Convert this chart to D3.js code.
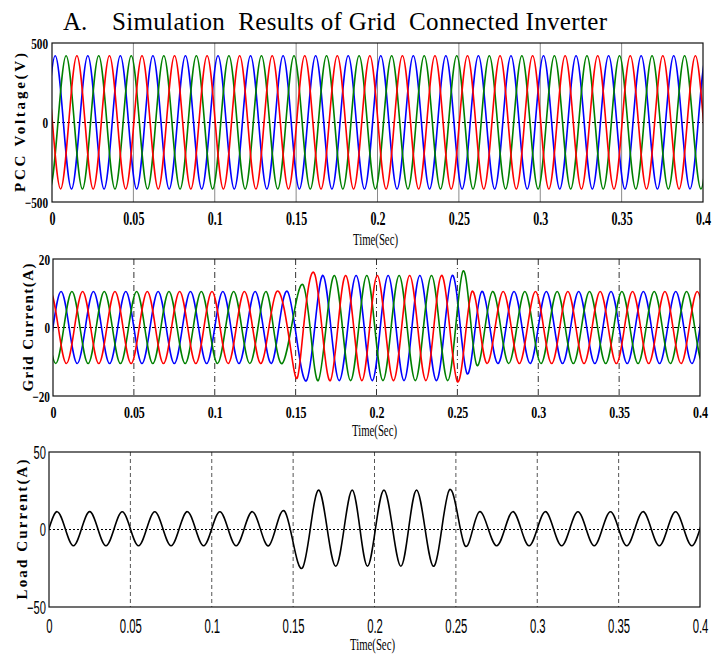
<!DOCTYPE html>
<html>
<head>
<meta charset="utf-8">
<script src="https://cdn.jsdelivr.net/npm/d3@7"></script>
<style>
  body { margin: 0; background: #fff; }
  svg { display: block; }
</style>
</head>
<body>
<div id="chart"></div>
<script>
// shared time axis (s)
var timeTicks = [0, 0.05, 0.1, 0.15, 0.2, 0.25, 0.3, 0.35, 0.4];
var timeTickLabels = ["0", "0.05", "0.1", "0.15", "0.2", "0.25", "0.3", "0.35", "0.4"];

var voltTicks = [-500, 0, 500];
var gridTicks = [-20, 0, 20];
var loadTicks = [-50, 0, 50];

// PCC voltage: one peak every half cycle, first peak time in s
var halfCycle = 0.01;
var voltAStart = -0.038;
var voltBStart = -0.0313;
var voltCStart = -0.0347;
var voltA = [420,-418,420,-418,420,-418,420,-418,420,-418,420,-418,420,-418,420,-418,420,-418,420,-418,420,-418,420,-418,
             420,-418,420,-418,420,-418,420,-418,420,-418,420,-418,420,-418,420,-418,420,-418,420,-418,420,-418,420,-418];
var voltB = [420,-418,420,-418,420,-418,420,-418,420,-418,420,-418,420,-418,420,-418,420,-418,420,-418,420,-418,420,-418,
             420,-418,420,-418,420,-418,420,-418,420,-418,420,-418,420,-418,420,-418,420,-418,420,-418,420,-418,420,-418];
var voltC = [-418,420,-418,420,-418,420,-418,420,-418,420,-418,420,-418,420,-418,420,-418,420,-418,420,-418,420,-418,420,
             -418,420,-418,420,-418,420,-418,420,-418,420,-418,420,-418,420,-418,420,-418,420,-418,420,-418,420,-418,420];

// grid current peaks: time (ms) and value (A)
var gridATimes = [-35,-25,-15,-5,5,15,25,35,45,55,65,75,85,95,105,115,125,135,145,
  156.7,166.9,177,187.4,197.4,207.2,217,226.8,237,246.8,256,
  265,275,285,295,305,315,325,335,345,355,365,375,385,395,405,415,425,435];
var gridA = [10.5,-10.5,10.5,-10.5,10.5,-10.5,10.5,-10.5,10.5,-10.5,10.5,-10.5,10.5,-10.5,10.5,-10.5,10.5,-10.5,10.5,
  -15.5,15.2,-15.5,15.2,-15.5,15.2,-15.5,15.2,-15.5,15.2,-13.5,
  10.5,-10.5,10.5,-10.5,10.5,-10.5,10.5,-10.5,10.5,-10.5,10.5,-10.5,10.5,-10.5,10.5,-10.5,10.5,-10.5];
var gridBTimes = [-38.3,-28.3,-18.3,-8.3,1.7,11.7,21.7,31.7,41.7,51.7,61.7,71.7,81.7,91.7,101.7,111.7,121.7,131.7,141.7,
  154.5,164,174,184,194,204,214,224,234,244,253.5,262,
  271.7,281.7,291.7,301.7,311.7,321.7,331.7,341.7,351.7,361.7,371.7,381.7,391.7,401.7,411.7,421.7,431.7];
var gridB = [-10.5,10.5,-10.5,10.5,-10.5,10.5,-10.5,10.5,-10.5,10.5,-10.5,10.5,-10.5,10.5,-10.5,10.5,-10.5,10.5,-10.5,
  12.5,-15.5,15.2,-15.5,15.2,-15.5,15.2,-15.5,15.2,-15.5,16.5,-11,
  10.5,-10.5,10.5,-10.5,10.5,-10.5,10.5,-10.5,10.5,-10.5,10.5,-10.5,10.5,-10.5,10.5,-10.5,10.5];
var gridCTimes = [-41.7,-31.7,-21.7,-11.7,-1.7,8.3,18.3,28.3,38.3,48.3,58.3,68.3,78.3,88.3,98.3,108.3,118.3,128.3,138.3,148.3,
  153.5,162,171.5,181,191,200.5,210.5,220.5,230.5,240.2,250,259,
  268.3,278.3,288.3,298.3,308.3,318.3,328.3,338.3,348.3,358.3,368.3,378.3,388.3,398.3,408.3,418.3,428.3,438.3];
var gridC = [10.5,-10.5,10.5,-10.5,10.5,-10.5,10.5,-10.5,10.5,-10.5,10.5,-10.5,10.5,-10.5,10.5,-10.5,10.5,-10.5,10.5,-10.5,
  -6.5,15.3,-15.5,15.2,-15.5,15.2,-15.5,15.2,-15.5,15.2,-15.8,10.5,
  -10.5,10.5,-10.5,10.5,-10.5,10.5,-10.5,10.5,-10.5,10.5,-10.5,10.5,-10.5,10.5,-10.5,10.5,-10.5,10.5];

// load current peaks: time (ms) and value (A)
var loadTimes = [-35,-25,-15,-5,5,15,25,35,45,55,65,75,85,95,105,115,125,135,145,
  155.8,165.8,176.2,186.3,195.7,205.8,216.2,225.8,236.1,245.9,255.5,
  264.5,275,285,295,305,315,325,335,345,355,365,375,385,395,405,415,425,435];
var load = [11.5,-10.5,11.5,-10.5,11.5,-10.5,11.5,-10.5,11.5,-10.5,11.5,-10.5,11.5,-10.5,11.5,-10.5,11.5,-10.5,11.5,
  -24.7,25.4,-23.7,25.4,-23.7,25.4,-23.7,25.4,-23.7,25.4,-10.3,
  11.5,-10.5,11.5,-10.5,11.5,-10.5,11.5,-10.5,11.5,-10.5,11.5,-10.5,11.5,-10.5,11.5,-10.5,11.5,-10.5];

function regular(start, values) {
  return values.map((v, i) => [start + i * halfCycle, v]);
}
function timed(times, values) {
  return values.map((v, i) => [times[i] / 1000, v]);
}

var svg = d3.select("#chart").append("svg")
  .attr("width", 722)
  .attr("height", 655);

var serif = "'Liberation Serif', 'Times New Roman', serif";
var sans = "'Liberation Sans', Arial, sans-serif";

// title
svg.append("text")
  .attr("x", 63).attr("y", 30)
  .attr("font-family", serif).attr("font-size", 25)
  .text("A.");
svg.append("text")
  .attr("x", 112).attr("y", 30)
  .attr("font-family", serif).attr("font-size", 25)
  .attr("textLength", 495).attr("lengthAdjust", "spacing")
  .style("white-space", "pre")
  .text("Simulation  Results of Grid  Connected Inverter");

function drawPanel(p) {
  var x = d3.scaleLinear().domain([0, 0.4]).range([p.left, p.right]);
  var y = d3.scaleLinear().domain([p.yTicks[0], p.yTicks[p.yTicks.length - 1]]).range([p.bottom, p.top]);
  var g = svg.append("g");

  svg.append("clipPath").attr("id", "clip" + p.id)
    .append("rect")
    .attr("x", p.left).attr("y", p.top)
    .attr("width", p.right - p.left).attr("height", p.bottom - p.top);

  // vertical grid lines
  g.append("g").selectAll("line")
    .data(timeTicks.slice(1, -1))
    .join("line")
    .attr("x1", d => x(d)).attr("x2", d => x(d))
    .attr("y1", p.top).attr("y2", p.bottom)
    .attr("stroke", p.gridColor)
    .attr("stroke-width", 1)
    .attr("stroke-dasharray", p.gridDash);

  // zero line
  g.append("line")
    .attr("x1", p.left).attr("x2", p.right)
    .attr("y1", y(0)).attr("y2", y(0))
    .attr("stroke", "#000")
    .attr("stroke-width", 1)
    .attr("stroke-dasharray", p.zeroDash);

  // waveforms
  var line = d3.line()
    .x(d => x(d[0]))
    .y(d => y(d[1]))
    .curve(d3.curveNatural);

  g.append("g").attr("clip-path", "url(#clip" + p.id + ")")
    .selectAll("path")
    .data(p.series)
    .join("path")
    .attr("d", s => line(s.points))
    .attr("fill", "none")
    .attr("stroke", s => s.color)
    .attr("stroke-width", 1.6);

  // frame
  g.append("rect")
    .attr("x", p.left).attr("y", p.top)
    .attr("width", p.right - p.left).attr("height", p.bottom - p.top)
    .attr("fill", "none")
    .attr("stroke", "#111")
    .attr("stroke-width", 1.2);

  // x tick labels
  var xg = g.append("g")
    .attr("transform", `translate(0,${p.bottom})`)
    .call(d3.axisBottom(x).tickValues(timeTicks).tickFormat((d, i) => timeTickLabels[i]).tickSize(0));
  xg.select(".domain").remove();
  xg.attr("font-family", p.tickFont).attr("font-size", p.xTickSize).attr("font-weight", p.tickWeight);
  xg.selectAll("text")
    .attr("y", p.xTickBase)
    .attr("dy", null)
    .attr("fill", "#000")
    .attr("transform", `scale(${p.xSqueeze},1)`);

  // y tick labels
  var yg = g.append("g")
    .attr("transform", `translate(${p.left},0)`)
    .call(d3.axisLeft(y).tickValues(p.yTicks).tickFormat(d3.format("d")).tickSize(0));
  yg.select(".domain").remove();
  yg.attr("font-family", p.tickFont).attr("font-size", p.yTickSize).attr("font-weight", p.tickWeight);
  yg.selectAll("text")
    .attr("x", -p.yGap / p.ySqueeze)
    .attr("dy", "0.35em")
    .attr("fill", "#000")
    .attr("transform", `scale(${p.ySqueeze},1)`);

  // axis titles
  svg.append("text")
    .attr("transform", `translate(${p.yTitleX},${(p.top + p.bottom) / 2}) rotate(-90)`)
    .attr("text-anchor", "middle")
    .attr("font-family", serif).attr("font-weight", "bold").attr("font-size", 15)
    .attr("textLength", p.yTitleLen).attr("lengthAdjust", "spacing")
    .text(p.yTitle);

  svg.append("text")
    .attr("x", (p.left + p.right) / 2 - 2).attr("y", p.timeBase)
    .attr("text-anchor", "middle")
    .attr("font-family", serif).attr("font-size", p.timeSize)
    .attr("textLength", 45).attr("lengthAdjust", "spacingAndGlyphs")
    .text("Time(Sec)");
}

drawPanel({
  id: "v", left: 52, right: 703, top: 43, bottom: 202,
  yTicks: voltTicks,
  series: [
    {color: "#0000ff", points: regular(voltAStart, voltA)},
    {color: "#008000", points: regular(voltBStart, voltB)},
    {color: "#ff0000", points: regular(voltCStart, voltC)}
  ],
  gridColor: "#8a8a8a", gridDash: null, zeroDash: "3,2",
  tickFont: serif, tickWeight: "bold",
  xTickSize: 18, xTickBase: 23, xSqueeze: 0.67,
  yTickSize: 15, yGap: 4, ySqueeze: 0.75,
  yTitle: "PCC Voltage(V)", yTitleX: 25, yTitleLen: 139,
  timeBase: 245, timeSize: 17
});

drawPanel({
  id: "g", left: 53, right: 700, top: 259, bottom: 396,
  yTicks: gridTicks,
  series: [
    {color: "#0000ff", points: timed(gridATimes, gridA)},
    {color: "#008000", points: timed(gridBTimes, gridB)},
    {color: "#ff0000", points: timed(gridCTimes, gridC)}
  ],
  gridColor: "#333", gridDash: "6,3,1,3", zeroDash: "4,2,1,2",
  tickFont: serif, tickWeight: "bold",
  xTickSize: 16, xTickBase: 22, xSqueeze: 0.75,
  yTickSize: 15, yGap: 3, ySqueeze: 0.75,
  yTitle: "Grid Current(A)", yTitleX: 33, yTitleLen: 128,
  timeBase: 436, timeSize: 17
});

drawPanel({
  id: "l", left: 49, right: 700, top: 452, bottom: 607,
  yTicks: loadTicks,
  series: [
    {color: "#000", points: timed(loadTimes, load)}
  ],
  gridColor: "#555", gridDash: "4,3", zeroDash: "2,2",
  tickFont: sans, tickWeight: "normal",
  xTickSize: 21, xTickBase: 26, xSqueeze: 0.54,
  yTickSize: 18, yGap: 3, ySqueeze: 0.62,
  yTitle: "Load Current(A)", yTitleX: 27, yTitleLen: 140,
  timeBase: 650, timeSize: 16
});
</script>
</body>
</html>
